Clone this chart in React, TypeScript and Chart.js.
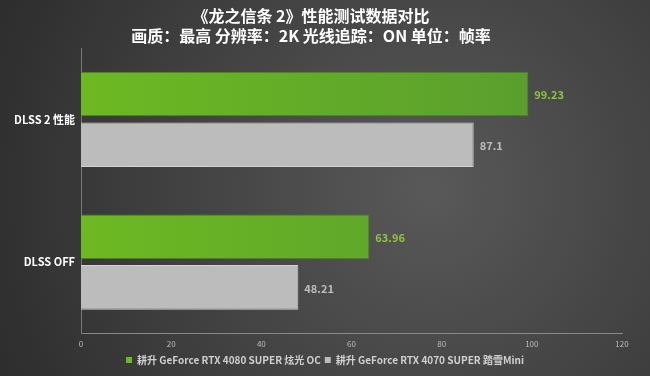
import React, { useEffect, useRef } from "react";
import { Chart, registerables } from "chart.js";

Chart.register(...registerables);

const titleLines = ["《龙之信条 2》性能测试数据对比", "画质：最高 分辨率：2K 光线追踪：ON 单位：帧率"];
const categories = ["DLSS 2 性能", "DLSS OFF"];
const seriesNames = ["耕升 GeForce RTX 4080 SUPER 炫光 OC", "耕升 GeForce RTX 4070 SUPER 踏雪Mini"];
const rtx4080 = [99.23, 63.96];
const rtx4070 = [87.1, 48.21];
const xMax = 120;
const xStep = 20;

const FONT = "'Noto Sans CJK SC', 'Noto Sans', sans-serif";

const valueLabels = {
  id: "valueLabels",
  afterDatasetsDraw(chart: any) {
    const ctx = chart.ctx;
    ctx.save();
    ctx.font = `bold 11px ${FONT}`;
    ctx.textBaseline = "middle";
    ctx.textAlign = "left";
    chart.data.datasets.forEach((ds: any, di: number) => {
      const meta = chart.getDatasetMeta(di);
      meta.data.forEach((bar: any, i: number) => {
        ctx.fillStyle = di === 0 ? "#8cc63f" : "#bdbdbd";
        ctx.fillText(String(ds.data[i]), bar.x + 6, bar.y + 1);
      });
    });
    ctx.restore();
  },
};

const shiftLegend = {
  id: "shiftLegend",
  afterLayout(chart: any) {
    if (chart.legend) {
      chart.legend.left += 28;
    }
  },
};

const bgPlugin = {
  id: "bgPlugin",
  beforeDraw(chart: any) {
    const { ctx, width, height } = chart;
    ctx.save();
    const g = ctx.createRadialGradient(430, 190, 10, 430, 190, 480);
    g.addColorStop(0, "#585858");
    g.addColorStop(1, "#2c2c2c");
    ctx.fillStyle = g;
    ctx.fillRect(0, 0, width, height);
    ctx.restore();
  },
};

export default function App() {
  const ref = useRef<HTMLCanvasElement | null>(null);
  useEffect(() => {
    document.body.style.margin = "0";
    const canvas = ref.current!;
    const ctx = canvas.getContext("2d")!;
    const greenGrad = ctx.createLinearGradient(81, 0, 530, 0);
    greenGrad.addColorStop(0, "#6cb922");
    greenGrad.addColorStop(1, "#5a9f2e");
    const chart = new Chart(canvas, {
      type: "bar",
      data: {
        labels: categories,
        datasets: [
          {
            label: seriesNames[0],
            data: rtx4080,
            backgroundColor: greenGrad,
            borderColor: "#4d7f2a",
            borderWidth: 1,
            categoryPercentage: 0.71,
            barPercentage: 0.88,
          },
          {
            label: seriesNames[1],
            data: rtx4070,
            backgroundColor: "#bcbcbc",
            borderColor: "#d2d2d2",
            borderWidth: 1,
            categoryPercentage: 0.71,
            barPercentage: 0.88,
          },
        ],
      },
      options: {
        indexAxis: "y",
        animation: false,
        responsive: false,
        layout: { padding: { left: 0, right: 28, top: 0, bottom: 1 } },
        plugins: {
          title: {
            display: true,
            text: titleLines,
            color: "#ffffff",
            font: { family: FONT, size: 16, weight: "bold", lineHeight: 1.25 },
            padding: { top: 6, bottom: 2 },
          },
          legend: {
            display: true,
            position: "bottom",
            labels: {
              color: "#d0d0d0",
              font: { family: FONT, size: 10, weight: "bold" },
              boxWidth: 6,
              boxHeight: 6,
              padding: 4,
              generateLabels: (c: any) =>
                c.data.datasets.map((ds: any, i: number) => ({
                  text: ds.label,
                  fillStyle: i === 0 ? "#6cb922" : "#bcbcbc",
                  strokeStyle: i === 0 ? "#6cb922" : "#bcbcbc",
                  lineWidth: 0,
                  fontColor: "#d0d0d0",
                  datasetIndex: i,
                  hidden: false,
                })),
            },
          },
          tooltip: { enabled: false },
        },
        scales: {
          x: {
            min: 0,
            max: xMax,
            ticks: { stepSize: xStep, color: "#bbbbbb", font: { family: FONT, size: 8 }, padding: 2 },
            grid: { display: false, drawTicks: true, tickLength: 4, color: "#888888" },
            border: { display: true, color: "#888888" },
          },
          y: {
            ticks: { color: "#ffffff", font: { family: FONT, size: 11, weight: "bold" }, padding: 3 },
            grid: { display: false, offset: true, tickLength: 3, color: "#888888" },
            border: { display: true, color: "#777777" },
            afterFit: (s: any) => {
              s.width = 81;
            },
          },
        },
      },
      plugins: [bgPlugin, valueLabels, shiftLegend],
    });
    return () => chart.destroy();
  }, []);
  return <canvas ref={ref} width={650} height={376} style={{ display: "block" }} />;
}
